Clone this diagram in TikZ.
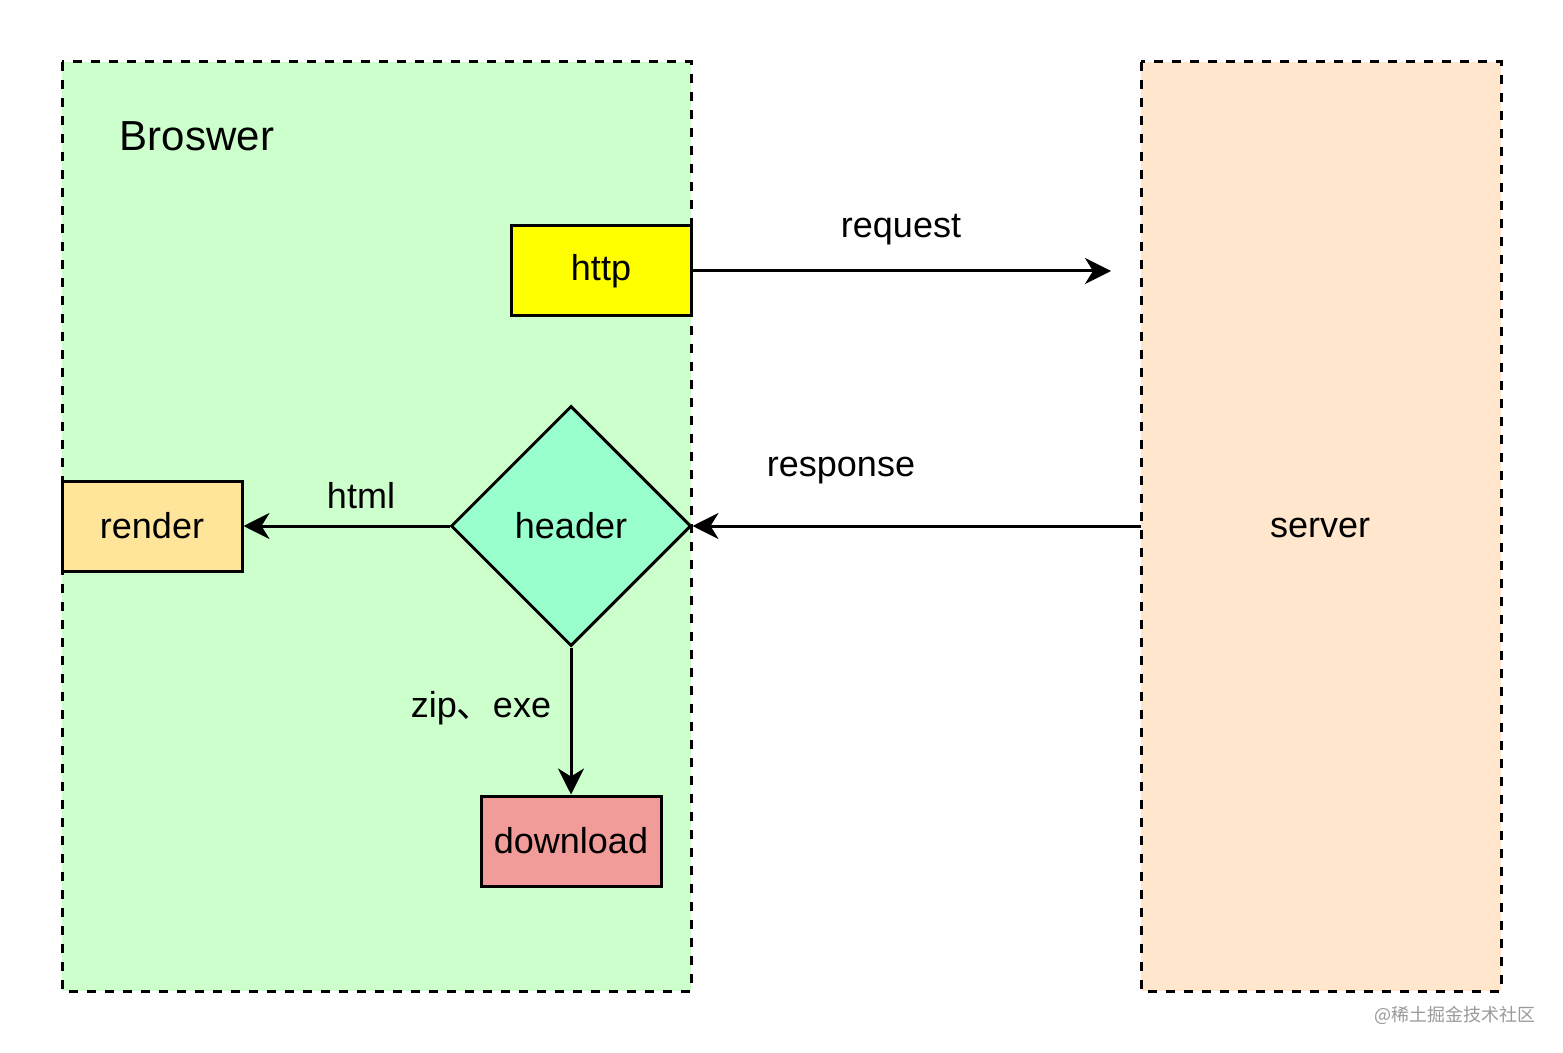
\documentclass[tikz,border=0pt]{standalone}
\usepackage{fontspec}
\setmainfont{Liberation Sans}
\newfontfamily\cjk{Noto Sans CJK SC}
\usetikzlibrary{arrows.meta,shapes.geometric}
\definecolor{browsergreen}{HTML}{CCFFCC}
\definecolor{serverorange}{HTML}{FFE6CC}
\definecolor{httpyellow}{HTML}{FFFF00}
\definecolor{renderyellow}{HTML}{FFE599}
\definecolor{headergreen}{HTML}{99FFCC}
\definecolor{downloadred}{HTML}{F19C99}
\definecolor{wmgray}{HTML}{9A9A9A}
\tikzset{
  zone/.style={draw=black, line width=1.5pt, dash pattern=on 4.5pt off 4.5pt},
  boxnode/.style={draw=black, line width=1.5pt, minimum width=90pt, minimum height=45pt, inner sep=0pt, font=\fontsize{18}{22}\selectfont},
  lbl/.style={font=\fontsize{18}{22}\selectfont, inner sep=0pt},
  conn/.style={line width=1.5pt, -{Stealth[length=13pt, width=13pt, inset=4pt]}},
}
\begin{document}
\begin{tikzpicture}[x=0.5pt, y=-0.5pt]
\useasboundingbox (0,0) rectangle (1563,1053);
\fill[white] (0,0) rectangle (1563,1053);
% zones
\path[zone, fill=browsergreen] (62,62) rectangle (691,991);
\path[zone, fill=serverorange] (1141,62) rectangle (1501,991);
\node[lbl, font=\fontsize{21}{25}\selectfont] (broswer) at (197,136) {Broswer};
\node[lbl] (server) at (1320,528) {server};
% nodes
\node[boxnode, fill=httpyellow] (http) at (601,271) {\raisebox{-1.5pt}{http}};
\node[boxnode, fill=renderyellow] (render) at (152,526) {\raisebox{-1pt}{render}};
\node[boxnode, fill=downloadred] (download) at (571,841) {download};
\node[diamond, draw=black, line width=1.5pt, fill=headergreen, minimum width=120pt, minimum height=120pt, inner sep=0pt, font=\fontsize{18}{22}\selectfont] (header) at (571,526) {header};
\coordinate (reqend) at (1111,271);
\coordinate (serverleft) at (1141,526);
% connectors
\draw[conn] (http.east) -- (reqend);
\draw[conn] (serverleft) -- (header.east);
\draw[conn] (header.west) -- (render.east);
\draw[conn] (header.south) -- (download.north);
% labels
\node[lbl] (reqlbl) at (901,230) {request};
\node[lbl] (resplbl) at (841,471) {response};
\node[lbl] (htmllbl) at (361,496) {html};
\node[lbl] (ziplbl) at (481,708) {zip{\cjk 、}exe};
\node[inner sep=0pt, text=wmgray, font=\cjk\fontsize{9}{11}\selectfont] (wm) at (1455,1015) {@稀土掘金技术社区};
\end{tikzpicture}
\end{document}
